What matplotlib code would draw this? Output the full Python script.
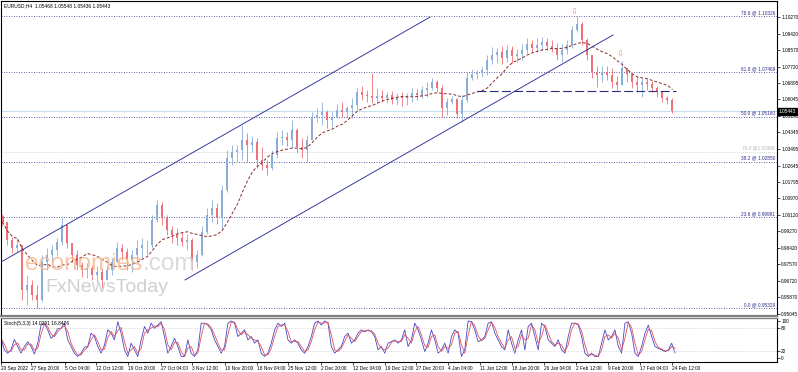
import numpy as np
import pandas as pd
import matplotlib
matplotlib.use('Agg')
import matplotlib.pyplot as plt

plt.rcParams['font.family'] = ['Liberation Sans', 'DejaVu Sans']

# EURUSD H4, 20 Sep 2022 - 24 Feb 2023 in 5-bar steps
bar_step = 5
first_open = 1.0005
closes = [
    0.9975, 0.9882, 0.9841, 0.9857, 0.9625, 0.9651, 0.9600, 0.9574, 0.9769, 0.9805,
    0.9831, 0.9872, 0.9959, 0.9867, 0.9805, 0.9754, 0.9728, 0.9738, 0.9702, 0.9718,
    0.9677, 0.9728, 0.9769, 0.9841, 0.9821, 0.9779, 0.9805, 0.9841, 0.9857, 0.9857,
    0.9985, 1.0062, 0.9995, 0.9934, 0.9908, 0.9892, 0.9872, 0.9882, 0.9769, 0.9805,
    0.9923, 1.0011, 1.0047, 0.9995, 1.0139, 1.0303, 1.0334, 1.0344, 1.0396, 1.0370,
    1.0386, 1.0293, 1.0267, 1.0252, 1.0319, 1.0406, 1.0411, 1.0396, 1.0447, 1.0360,
    1.0344, 1.0396, 1.0509, 1.0524, 1.0540, 1.0499, 1.0509, 1.0550, 1.0540, 1.0560,
    1.0576, 1.0642, 1.0627, 1.0622, 1.0612, 1.0622, 1.0612, 1.0627, 1.0601, 1.0617,
    1.0612, 1.0622, 1.0637, 1.0627, 1.0653, 1.0663, 1.0694, 1.0663, 1.0560, 1.0591,
    1.0606, 1.0529, 1.0601, 1.0714, 1.0735, 1.0740, 1.0755, 1.0807, 1.0832, 1.0848,
    1.0817, 1.0858, 1.0827, 1.0838, 1.0858, 1.0889, 1.0868, 1.0884, 1.0899, 1.0879,
    1.0868, 1.0832, 1.0858, 1.0884, 1.0961, 1.0992, 1.0909, 1.0832, 1.0745, 1.0730,
    1.0745, 1.0730, 1.0694, 1.0678, 1.0766, 1.0735, 1.0694, 1.0678, 1.0694, 1.0683,
    1.0663, 1.0642, 1.0612, 1.0601, 1.05443,
]
highs = [
    1.0016, 0.9975, 0.9898, 0.9892, 0.9857, 0.9702, 0.9677, 0.9651, 0.9805, 0.9841,
    0.9857, 0.9892, 0.9995, 0.9959, 0.9867, 0.9831, 0.9769, 0.9764, 0.9754, 0.9749,
    0.9738, 0.9749, 0.9790, 0.9872, 0.9862, 0.9841, 0.9831, 0.9882, 0.9892, 0.9882,
    1.0011, 1.0088, 1.0077, 1.0011, 0.9954, 0.9944, 0.9923, 0.9913, 0.9892, 0.9831,
    0.9954, 1.0047, 1.0088, 1.0072, 1.0165, 1.0344, 1.0370, 1.0370, 1.0473, 1.0432,
    1.0416, 1.0406, 1.0360, 1.0293, 1.0344, 1.0437, 1.0447, 1.0437, 1.0499, 1.0457,
    1.0406, 1.0421, 1.0540, 1.0560, 1.0591, 1.0550, 1.0540, 1.0581, 1.0591, 1.0570,
    1.0612, 1.0663, 1.0673, 1.0653, 1.0740, 1.0663, 1.0653, 1.0642, 1.0647, 1.0637,
    1.0642, 1.0637, 1.0663, 1.0658, 1.0673, 1.0694, 1.0714, 1.0704, 1.0678, 1.0612,
    1.0622, 1.0612, 1.0627, 1.0745, 1.0760, 1.0755, 1.0776, 1.0832, 1.0873, 1.0868,
    1.0879, 1.0884, 1.0879, 1.0863, 1.0889, 1.0920, 1.0909, 1.0920, 1.0925, 1.0920,
    1.0909, 1.0894, 1.0889, 1.0909, 1.0981, 1.1033, 1.1002, 1.0920, 1.0832, 1.0776,
    1.0776, 1.0776, 1.0766, 1.0725, 1.0801, 1.0766, 1.0735, 1.0725, 1.0714, 1.0709,
    1.0699, 1.0673, 1.0642, 1.0622, 1.0612,
]
lows = [
    0.9954, 0.9857, 0.9815, 0.9821, 0.9574, 0.9548, 0.9574, 0.9533, 0.9564, 0.9728,
    0.9769, 0.9800, 0.9857, 0.9841, 0.9769, 0.9728, 0.9692, 0.9687, 0.9677, 0.9666,
    0.9636, 0.9687, 0.9702, 0.9769, 0.9779, 0.9728, 0.9718, 0.9769, 0.9790, 0.9805,
    0.9841, 0.9975, 0.9959, 0.9908, 0.9867, 0.9857, 0.9851, 0.9831, 0.9728, 0.9738,
    0.9800, 0.9913, 0.9975, 0.9964, 0.9934, 1.0129, 1.0267, 1.0283, 1.0293, 1.0283,
    1.0334, 1.0252, 1.0242, 1.0216, 1.0242, 1.0303, 1.0370, 1.0365, 1.0355, 1.0329,
    1.0303, 1.0283, 1.0396, 1.0488, 1.0473, 1.0457, 1.0463, 1.0509, 1.0514, 1.0509,
    1.0509, 1.0550, 1.0601, 1.0591, 1.0586, 1.0581, 1.0591, 1.0586, 1.0581, 1.0576,
    1.0570, 1.0576, 1.0591, 1.0601, 1.0612, 1.0617, 1.0653, 1.0642, 1.0514, 1.0524,
    1.0581, 1.0509, 1.0488, 1.0591, 1.0704, 1.0709, 1.0719, 1.0730, 1.0786, 1.0791,
    1.0786, 1.0796, 1.0791, 1.0796, 1.0807, 1.0843, 1.0848, 1.0848, 1.0858, 1.0858,
    1.0848, 1.0807, 1.0796, 1.0838, 1.0868, 1.0950, 1.0884, 1.0807, 1.0714, 1.0668,
    1.0694, 1.0704, 1.0663, 1.0653, 1.0683, 1.0694, 1.0663, 1.0642, 1.0617, 1.0653,
    1.0642, 1.0617, 1.0591, 1.0581, 1.0534,
]

# Stoch(5,3,3) main line, read at even steps across the same bars
stoch_k = [
    53, 22, 13, 22, 50, 31, 13, 31, 44, 31,
    11, 40, 89, 94, 76, 53, 62, 80, 80, 95,
    49, 31, 13, 4, 13, 29, 31, 67, 58, 31,
    13, 35, 76, 67, 49, 98, 67, 22, 4, 40,
    22, 4, 49, 85, 67, 94, 80, 89, 98, 58,
    13, 31, 53, 31, 4, 4, 49, 13, 4, 22,
    94, 94, 89, 76, 49, 31, 13, 31, 94, 100,
    94, 58, 67, 76, 49, 58, 40, 49, 13, 4,
    13, 40, 76, 94, 85, 94, 49, 40, 49, 40,
    22, 13, 31, 58, 94, 100, 89, 100, 94, 31,
    13, 22, 31, 58, 67, 40, 49, 67, 76, 71,
    76, 71, 58, 22, 31, 13, 40, 44, 49, 40,
    49, 76, 31, 49, 94, 76, 49, 17, 40, 76,
    49, 13, 22, 40, 13, 58, 76, 67, 4, 22,
    100, 98, 76, 44, 49, 58, 94, 98, 67, 49,
    31, 22, 76, 40, 13, 49, 76, 22, 85, 94,
    58, 22, 94, 85, 49, 40, 31, 49, 22, 13,
    58, 94, 94, 89, 58, 13, 4, 13, 4, 4,
    40, 76, 49, 58, 76, 31, 13, 94, 98, 67,
    13, 4, 31, 67, 89, 58, 31, 26, 22, 17,
    22, 40, 14,
]

date_bars = [1, 31, 65, 96, 128, 161, 192, 225, 257, 288, 321, 353, 385,
             416, 448, 480, 512, 544, 576, 608, 640, 672]
date_labels = ['20 Sep 2022', '27 Sep 20:00', '5 Oct 04:00', '12 Oct 12:00',
               '19 Oct 20:00', '27 Oct 04:00', '3 Nov 12:00', '10 Nov 20:00',
               '18 Nov 04:00', '25 Nov 12:00', '2 Dec 20:00', '12 Dec 04:00',
               '19 Dec 12:00', '27 Dec 20:00', '4 Jan 04:00', '11 Jan 12:00',
               '18 Jan 20:00', '26 Jan 04:00', '2 Feb 12:00', '9 Feb 20:00',
               '17 Feb 04:00', '24 Feb 12:00']

price_ticks = [1.10270, 1.09420, 1.08570, 1.07720, 1.06895, 1.06045, 1.05195,
               1.04345, 1.03495, 1.02645, 1.01795, 1.00970, 1.00120, 0.99270,
               0.98420, 0.97570, 0.96720, 0.95870, 0.95045]
stoch_ticks = [0, 20, 80, 100]

fib_levels = ['78.6', '61.8', '50.0', '38.2', '23.6', '0.0']
fib_prices = [1.10326, 1.07469, 1.05160, 1.02850, 0.99991, 0.95329]
fib_extra_level = '76.4'
fib_extra_price = 1.03366

last_price = 1.05443
ohlc_text = 'EURUSD,H4  1.05468 1.05548 1.05436 1.05443'
stoch_text = 'Stoch(5,3,3) 14.0291 16.8426'

# hand drawn objects on the chart: (bar, price)
upper_channel = [(1, 0.9769), (430, 1.1027)]
lower_channel = [(185, 0.9677), (613, 1.0935)]
neckline = [(477, 1.0645), (676, 1.0645)]
arrow_points = [(574, 1.1048), (620, 1.0830)]

NAVY = '#2a2a8c'
UP = '#8aaed8'
DOWN = '#ee7078'

W, H = 798, 372
fig = plt.figure(figsize=(W / 100, H / 100), dpi=100)
ax = fig.add_axes([1 / W, 1 - 316 / H, 776 / W, 315 / H])
ax_st = fig.add_axes([1 / W, 1 - 362 / H, 776 / W, 44 / H])

# candles
closes = np.array(closes)
opens = np.concatenate([[first_open], closes[:-1]])
highs = np.maximum(np.array(highs), np.maximum(opens, closes))
lows = np.minimum(np.array(lows), np.minimum(opens, closes))
bars = np.arange(len(closes)) * bar_step + bar_step / 2
colors = np.where(closes >= opens, UP, DOWN)

ax.vlines(bars, lows, highs, colors=colors, lw=0.6, zorder=3)
ax.bar(bars, np.abs(closes - opens) + 0.0002, bottom=np.minimum(opens, closes) - 0.0001,
       width=2.0, color=colors, lw=0, zorder=3)

ma = pd.Series(closes).rolling(10, min_periods=1).mean()
ax.plot(bars, ma, color='#8b2a2a', lw=0.7, dashes=(3, 2), zorder=4)

# fibonacci levels
for lvl, pr in zip(fib_levels, fib_prices):
    ax.axhline(pr, color=NAVY, lw=0.6, ls=(0, (1, 2)), zorder=2)
    ax.text(775, pr + 0.0004, f'{lvl} @ {pr:.5f}', ha='right', va='bottom',
            fontsize=3.4, color=NAVY)
ax.axhline(fib_extra_price, color='#b4b4b4', lw=0.5, ls=(0, (1, 2)), zorder=2)
ax.text(775, fib_extra_price + 0.0004, f'{fib_extra_level} @{fib_extra_price:.5f}',
        ha='right', va='bottom', fontsize=3.4, color='#b4b4b4')

ax.axhline(last_price, color='#c4e2ee', lw=0.8, zorder=1)

for line in (upper_channel, lower_channel):
    xs, ys = zip(*line)
    ax.plot(xs, ys, color='#3a3aa0', lw=0.7, zorder=5)
xs, ys = zip(*neckline)
ax.plot(xs, ys, color='#2a2a80', lw=0.8, dashes=(8, 3), zorder=5)

for x, y in arrow_points:
    ax.text(x, y, '⇩', ha='center', va='center', fontsize=6, color='#f08c6c', zorder=6)

ax.set_xlim(1, 777)
ax.set_ylim(0.94918, 1.11097)
ax.set_xticks([])
ax.yaxis.tick_right()
ax.set_yticks(price_ticks)
ax.set_yticklabels([f'{v:.5f}' for v in price_ticks])
ax.tick_params(axis='y', labelsize=3.4, length=2, width=0.5, pad=1)
for side in ('left', 'top', 'right'):
    ax.spines[side].set_linewidth(0.8)
ax.spines['bottom'].set_color('#808080')
ax.spines['bottom'].set_linewidth(1.6)

ax.text(1.002, last_price, f'{last_price:.5f}', transform=ax.get_yaxis_transform(),
        fontsize=3.4, color='white', va='center', ha='left', zorder=7, clip_on=False,
        bbox=dict(boxstyle='square,pad=0.2', fc='black', ec='black'))

# stochastic
sx = np.linspace(1, 675, len(stoch_k))
k = pd.Series(stoch_k, dtype=float)
d = k.rolling(2, min_periods=1).mean()
ax_st.plot(sx, k, color='#4646c8', lw=0.6)
ax_st.plot(sx, d, color='#e05060', lw=0.6)
for lv in (20, 80):
    ax_st.axhline(lv, color='#b8b8b8', lw=0.5, ls=(0, (1, 2)))
ax_st.set_xlim(1, 777)
ax_st.set_ylim(-10.8, 108)
ax_st.yaxis.tick_right()
ax_st.set_yticks(stoch_ticks)
ax_st.tick_params(axis='y', labelsize=3.4, length=2, width=0.5, pad=1)
ax_st.set_xticks(date_bars)
ax_st.set_xticklabels(date_labels, ha='left')
ax_st.tick_params(axis='x', labelsize=3.4, length=2, width=0.5, pad=1)
ax_st.spines['top'].set_color('#808080')
ax_st.spines['top'].set_linewidth(1.0)
for side in ('left', 'bottom', 'right'):
    ax_st.spines[side].set_linewidth(0.8)

fig.text(4 / W, 1 - 6 / H, ohlc_text, fontsize=3.5, va='center')
fig.text(4 / W, 1 - 323 / H, stoch_text, fontsize=3.5, va='center')

# watermark
fig.text(25 / W, 1 - 270 / H, 'economies', fontsize=17.5, color='#f4b98e', alpha=0.8)
fig.text(143 / W, 1 - 270 / H, '.com', fontsize=17.5, color='#d4d4d4', alpha=0.85)
fig.text(45 / W, 1 - 292 / H, 'FxNewsToday', fontsize=14, color='#c8c8c8', alpha=0.85)

fig.savefig('out.png', dpi=100)
